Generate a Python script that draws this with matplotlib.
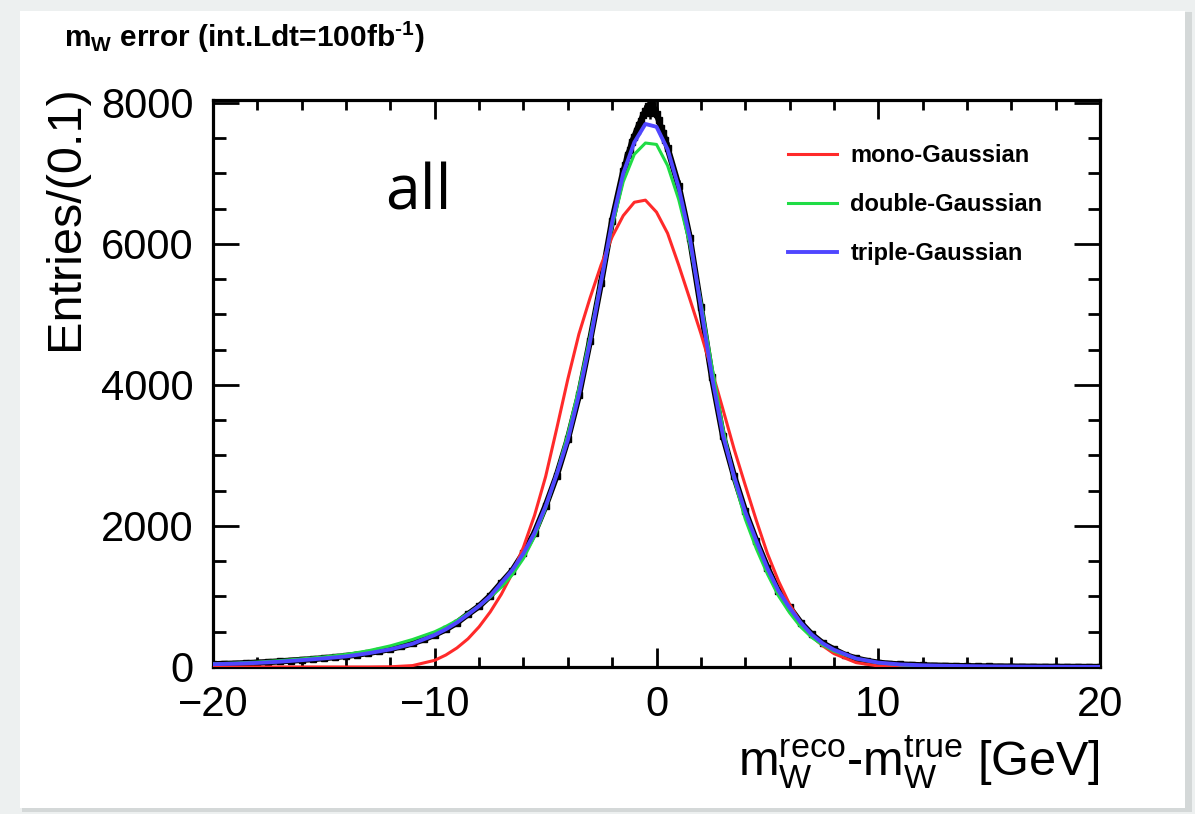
import numpy as np
import matplotlib
matplotlib.use("Agg")
import matplotlib.pyplot as plt
from matplotlib.patches import Rectangle
from matplotlib.ticker import MultipleLocator

plt.rcParams["font.family"] = ["Liberation Sans", "DejaVu Sans"]
plt.rcParams["mathtext.fontset"] = "custom"
plt.rcParams["mathtext.rm"] = "Liberation Sans"
plt.rcParams["mathtext.it"] = "Liberation Sans"
plt.rcParams["mathtext.bf"] = "Liberation Sans:bold"

data_x = np.concatenate([np.arange(-20, -1.99, 0.5),
                         np.arange(-1.5, 0.51, 0.1),
                         np.arange(1, 20.01, 0.5)])
data_y = [40, 44, 48, 55, 62, 70, 80, 90, 101, 112, 126, 140, 156, 176, 198,
          226, 256, 292, 336, 392, 458, 534, 628, 748, 862, 1010, 1192, 1368,
          1615, 1905, 2285, 2715, 3230, 3850, 4625, 5450, 6330,
          7030, 7120, 7260, 7330, 7450, 7520, 7600, 7680, 7740, 7830, 7880,
          7950, 7860, 7970, 7900, 7840, 7760, 7650, 7570, 7470, 7360,
          6820, 6090, 5100, 4110, 3275, 2705, 2210, 1790, 1410, 1075, 845,
          630, 462, 336, 250, 172, 121, 86, 61, 46, 36, 30, 24, 20, 17, 14,
          12, 10, 8, 7, 6, 5, 4, 3, 3, 2, 2, 1, 1]

# -- fitted curves sampled on a common grid
fit_x = np.concatenate([np.arange(-20, -10.99, 1.0),
                        np.arange(-10, 8.01, 0.5),
                        np.arange(9, 20.01, 1.0)])
mono = [0, 0, 0, 0, 0, 0, 0, 0, 3, 20,
        95, 170, 270, 400, 570, 780, 1030, 1330, 1700, 2150, 2700, 3380,
        4080, 4720, 5230, 5700, 6100, 6400, 6590, 6620, 6450, 6150, 5700,
        5220, 4730, 4200, 3650, 3090, 2580, 2080, 1610, 1220, 890, 630, 440,
        300, 190,
        62, 15, 3, 0, 0, 0, 0, 0, 0, 0, 0, 0]
double = [45, 55, 70, 90, 115, 142, 178, 230, 300, 390,
          500, 575, 660, 760, 865, 990, 1130, 1310, 1540, 1850, 2250, 2740,
          3300, 3950, 4680, 5480, 6250, 6880, 7270, 7430, 7410, 7110, 6630,
          6000, 5180, 4260, 3380, 2660, 2100, 1680, 1320, 1010, 770, 570, 420,
          310, 225,
          118, 60, 30, 15, 7, 3, 1, 0, 0, 0, 0, 0]
triple = [40, 47, 58, 75, 97, 122, 150, 195, 250, 330,
          455, 535, 630, 745, 865, 1005, 1190, 1375, 1610, 1900, 2280, 2730,
          3220, 3860, 4610, 5460, 6310, 7000, 7440, 7700, 7660, 7340, 6800,
          6090, 5110, 4120, 3280, 2700, 2200, 1790, 1400, 1080, 840, 630, 460,
          335, 245,
          120, 62, 36, 24, 17, 12, 8, 6, 4, 3, 2, 1]

labels = ["mono-Gaussian", "double-Gaussian", "triple-Gaussian"]
colors = ["#ff2a2a", "#1fdc45", "#4f46ff"]

plt.close("all")
fig = plt.figure(figsize=(11.95, 8.14), dpi=100, facecolor="#edf0f0")
# -- white card with a soft shadow on the right
fig.patches.append(Rectangle((22 / 1195, 1 - 812 / 814), 1170 / 1195,
                             800 / 814, transform=fig.transFigure,
                             facecolor="#d4d8d8", edgecolor="none", zorder=-2))
fig.patches.append(Rectangle((20 / 1195, 1 - 808 / 814), 1165 / 1195,
                             797 / 814, transform=fig.transFigure,
                             facecolor="white", edgecolor="none", zorder=-1))

ax = fig.add_axes([213 / 1195, 1 - 667 / 814, 887 / 1195, 567 / 814])
ax.set_zorder(2)
ax.set_facecolor("none")

yerr = np.sqrt(data_y)
ax.errorbar(data_x, data_y, yerr=yerr, fmt="none", ecolor="k",
            elinewidth=1.8, zorder=2)
ax.plot(data_x, data_y, color="k", lw=4.5, zorder=2)
ax.plot(data_x, data_y, "s", color="k", ms=4, zorder=2)

ax.plot(fit_x, mono, color=colors[0], lw=2.2, label=labels[0], zorder=3)
ax.plot(fit_x, double, color=colors[1], lw=2.2, label=labels[1], zorder=4)
ax.plot(fit_x, triple, color=colors[2], lw=2.8, label=labels[2], zorder=5)

ax.set_xlim(-20, 20)
ax.set_ylim(0, 8040)
ax.xaxis.set_major_locator(MultipleLocator(10))
ax.xaxis.set_minor_locator(MultipleLocator(2))
ax.yaxis.set_major_locator(MultipleLocator(2000))
ax.yaxis.set_minor_locator(MultipleLocator(500))

for s in ax.spines.values():
    s.set_linewidth(2.3)
ax.tick_params(axis="both", which="both", direction="in", top=True,
               right=True, width=2.0, labelsize=30)
ax.tick_params(axis="x", which="major", length=14, pad=13)
ax.tick_params(axis="x", which="minor", length=7)
ax.tick_params(axis="y", which="major", length=19, pad=14)
ax.tick_params(axis="y", which="minor", length=9)

ax.set_ylabel("Entries/(0.1)", fontsize=35, loc="top")
ax.yaxis.set_label_coords(-0.141, 1.026)
ax.set_xlabel(r"$\mathregular{m_W^{reco}}$-$\mathregular{m_W^{true}}$ [GeV]",
              fontsize=35, loc="right")
ax.xaxis.set_label_coords(0.9995, -0.117)

leg = ax.legend(loc="upper left", bbox_to_anchor=(0.624, 0.96),
                frameon=False, handlelength=2.1,
                handletextpad=0.55, labelspacing=1.1,
                prop={"weight": "bold", "size": 17})

fig.text(64 / 1195, 1 - 47 / 814,
         "$\\mathbf{m_W}$ error (int.Ldt=100fb$\\mathbf{^{\u2010 1}}$)",
         fontsize=21.5, fontweight="bold", va="baseline", ha="left")
fig.text(385 / 1195, 1 - 209 / 814, "all", fontsize=45,
         family=["Open Sans", "DejaVu Sans"], va="baseline", ha="left")

fig.savefig("out.png", dpi=100, facecolor=fig.get_facecolor())
